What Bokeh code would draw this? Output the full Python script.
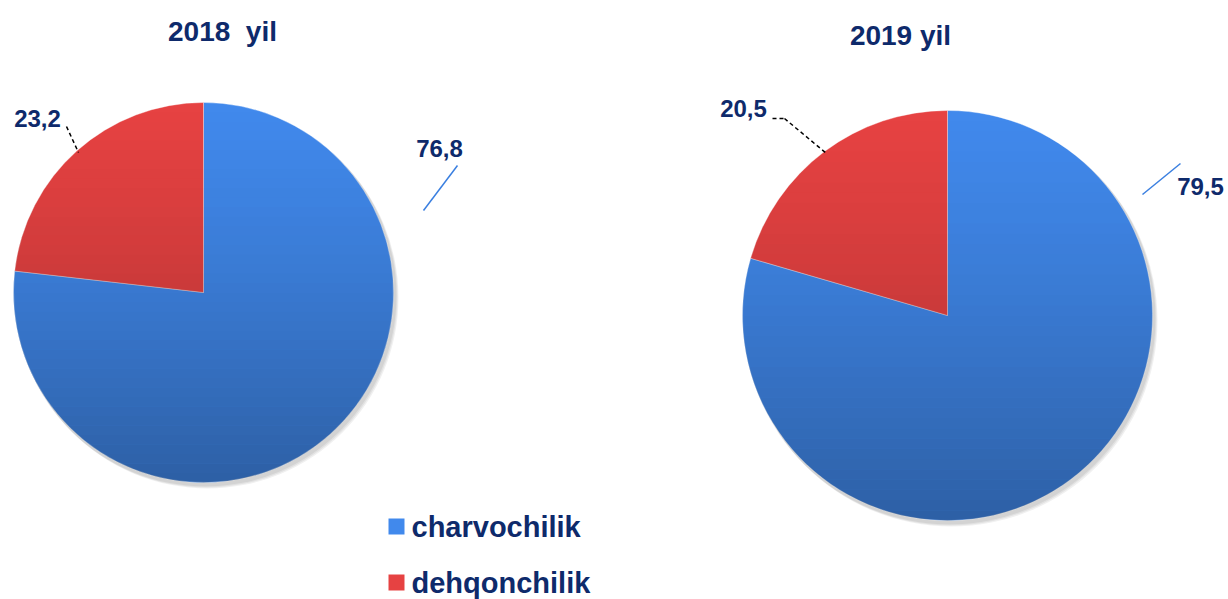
import math
from bokeh.plotting import figure
from bokeh.models import Range1d
from bokeh.core.properties import value
from bokeh.embed import file_html
from bokeh.resources import INLINE

# ---- data ----
categories = ["charvochilik", "dehqonchilik"]
years = ["2018", "2019"]
titles = ["2018\u00a0\u00a0yil", "2019 yil"]
values_2018 = [76.8, 23.2]
values_2019 = [79.5, 20.5]
series = [values_2018, values_2019]
colors = ["#4189ec", "#e64242"]

# ---- layout (reference pixel space) ----
W, H = 1228, 599
def Y(py):
    return H - py

pie_centers = [(203, 292), (947, 315)]
pie_radii = [190, 205]
title_pos = [(222, 31), (900, 35)]
label_pos = [[(439, 148), (37, 118)], [(1200, 186), (743, 108)]]
leader_lines = [
    [((423, 210), (457, 165), "blue"), ((66, 126), (78, 152), "dash")],
    [((1142, 194), (1180, 163), "blue"), ((772, 118), (784, 118), "dash"), ((784, 118), (826, 153), "dash")],
]
NAVY = "#0e2a6b"
FONT = value("Liberation Sans")

p = figure(width=W, height=H, output_backend="svg", toolbar_location=None,
           x_range=Range1d(0, W), y_range=Range1d(0, H), min_border=0)
p.axis.visible = False
p.grid.visible = False
p.outline_line_color = None
p.background_fill_color = "white"

for i, vals in enumerate(series):
    cx, cy = pie_centers[i]
    r = pie_radii[i]
    # soft shadow
    for k in range(3):
        p.circle(x=cx + 2 + k, y=Y(cy + 3 + k), radius=r + 1, fill_color="black",
                 fill_alpha=0.06, line_color=None)
    # wedges clockwise from 12 o'clock
    total = sum(vals)
    start = math.pi / 2
    for j, v in enumerate(vals):
        frac = v / total
        a0 = start - frac * 2 * math.pi
        p.wedge(x=cx, y=Y(cy), radius=r, start_angle=a0, end_angle=start,
                fill_color=colors[j], line_color="white", line_alpha=0.35, line_width=1)
        start = a0
    # vertical shading overlay (circle strips)
    N = 40
    top = cy - r
    h = 2 * r / N
    xs, ys, alphas = [], [], []
    for k in range(N):
        y0 = top + k * h
        y1 = y0 + h
        pts_l, pts_r = [], []
        for t in range(7):
            yy = y0 + (y1 - y0) * t / 6
            dy = yy - cy
            dx = math.sqrt(max(r * r - dy * dy, 0))
            pts_l.append((cx - dx, yy))
            pts_r.append((cx + dx, yy))
        poly = pts_l + pts_r[::-1]
        xs.append([q[0] for q in poly])
        ys.append([Y(q[1]) for q in poly])
        alphas.append(0.30 * ((k + 0.5) / N) ** 1.3)
    p.patches(xs=xs, ys=ys, fill_color="black", fill_alpha=alphas, line_color=None)

    # title
    tx, ty = title_pos[i]
    p.text(x=[tx], y=[Y(ty)], text=[titles[i]], text_font=FONT, text_font_style="bold",
           text_font_size="28px", text_color=NAVY, text_align="center", text_baseline="middle")
    # value labels
    for j, v in enumerate(vals):
        lx, ly = label_pos[i][j]
        lab = f"{v:.1f}".replace(".", ",")
        p.text(x=[lx], y=[Y(ly)], text=[lab], text_font=FONT, text_font_style="bold",
               text_font_size="24px", text_color=NAVY, text_align="center", text_baseline="middle")
    # leader lines
    for (x0, y0), (x1, y1), kind in leader_lines[i]:
        if kind == "blue":
            p.line(x=[x0, x1], y=[Y(y0), Y(y1)], line_color="#3a7fe0", line_width=1.5)
        else:
            p.line(x=[x0, x1], y=[Y(y0), Y(y1)], line_color="black", line_width=1.5,
                   line_dash="4 3")

# legend (manual)
leg_x, leg_y0, leg_dy = 396, 526, 56
for j, cat in enumerate(categories):
    yy = leg_y0 + j * leg_dy
    p.scatter(x=[leg_x], y=[Y(yy)], marker="square", size=16, fill_color=colors[j],
              line_color=None)
    p.text(x=[leg_x + 15], y=[Y(yy)], text=[cat], text_font=FONT, text_font_style="bold",
           text_font_size="29px", text_color=NAVY, text_align="left", text_baseline="middle")

open("out.html", "w").write(file_html(p, INLINE))
